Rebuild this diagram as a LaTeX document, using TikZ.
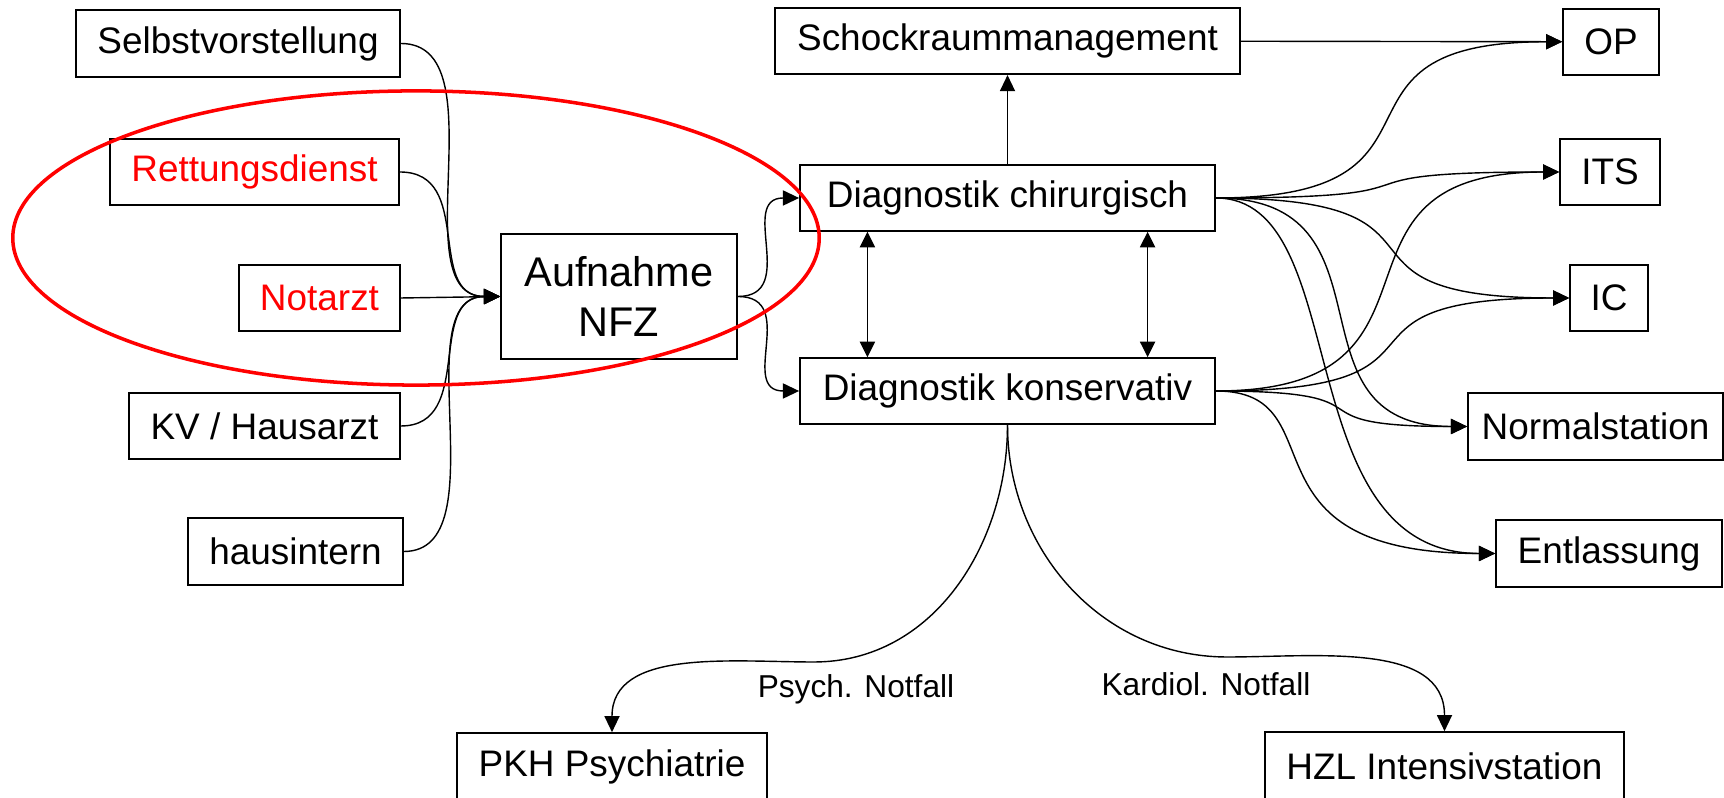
\documentclass[tikz,border=0pt]{standalone}
\usepackage{fontspec}
\setmainfont{Liberation Sans}
\usetikzlibrary{arrows.meta, calc}

\tikzset{
  box/.style={draw, line width=0.45pt, inner sep=0pt, font=\fontsize{10.5}{12.6}\selectfont},
  link/.style={line width=0.4pt, -{Triangle[length=4.6pt,width=4.3pt]}},
  dlink/.style={line width=0.4pt, {Triangle[length=4.4pt,width=4.3pt]}-{Triangle[length=4.4pt,width=4.3pt]}},
  scurve/.style 2 args={to path={(\tikztostart) .. controls ($(\tikztostart)!#1!(\tikztostart -| \tikztotarget)$) and ($(\tikztotarget)!#2!(\tikztotarget -| \tikztostart)$) .. (\tikztotarget)}},
  sc/.style={scurve={0.75}{0.75}},
  lbl/.style={font=\fontsize{9}{11}\selectfont}
}

\begin{document}
\begin{tikzpicture}[x=0.01cm, y=-0.01cm]
\useasboundingbox (0,0) rectangle (1724,798);
% Zugang
\node[box, minimum width=3.24cm, minimum height=0.67cm] (selbst) at (238,43.5) {Selbstvorstellung};
\node[box, text=red, minimum width=2.89cm, minimum height=0.66cm] (rett) at (254.5,172) {Rettungsdienst};
\node[box, text=red, minimum width=1.61cm, minimum height=0.66cm] (notarzt) at (319.5,298) {Notarzt};
\node[box, minimum width=2.71cm, minimum height=0.66cm] (kv) at (264.5,426) {KV / Hausarzt};
\node[box, minimum width=2.15cm, minimum height=0.67cm] (haus) at (295.5,551.5) {hausintern};
\node[box, align=center, font=\fontsize{11.8}{14.2}\selectfont, minimum width=2.36cm, minimum height=1.25cm] (aufn) at (619,296.5) {Aufnahme\\NFZ};
% Diagnostik
\node[box, minimum width=4.65cm, minimum height=0.66cm] (schock) at (1007.5,41.25) {Schockraummanagement};
\node[box, minimum width=4.15cm, minimum height=0.66cm] (chir) at (1007.5,198) {Diagnostik chirurgisch};
\node[box, minimum width=4.15cm, minimum height=0.66cm] (kons) at (1007.5,391) {Diagnostik konservativ};
% Ziele
\node[box, minimum width=0.96cm, minimum height=0.66cm] (op) at (1611,41.75) {OP};
\node[box, minimum width=1.00cm, minimum height=0.66cm] (its) at (1610,172) {ITS};
\node[box, minimum width=0.78cm, minimum height=0.66cm] (ic) at (1609,298) {IC};
\node[box, minimum width=2.55cm, minimum height=0.67cm] (normal) at (1595.5,426.5) {Normalstation};
\node[box, minimum width=2.26cm, minimum height=0.67cm] (entl) at (1609,553.5) {Entlassung};
\node[box, minimum width=3.10cm, minimum height=0.67cm] (pkh) at (612,766.5) {PKH Psychiatrie};
\node[box, minimum width=3.59cm, minimum height=0.68cm] (hzl) at (1444.5,766) {HZL Intensivstation};
\node[lbl] (psych) at (856,689) {Psych. Notfall};
\node[lbl] (kard) at (1206,684) {Kardiol. Notfall};
\coordinate (psyknick) at (814,662);
\coordinate (kardknick) at (1227,657);

\draw[link] (selbst.east) to[scurve={1}{1}] (aufn.west);
\draw[link] (rett.east) to[sc] (aufn.west);
\draw[link] (notarzt.east) -- (aufn.west);
\draw[link] (kv.east) to[sc] (aufn.west);
\draw[link] (haus.east) to[scurve={1}{1}] (aufn.west);
\draw[link] (aufn.east) to[scurve={1}{1}] (chir.west);
\draw[link] (aufn.east) to[scurve={1}{1}] (kons.west);
\draw[link] (chir.north) -- (schock.south);
\draw[link] (schock.east) -- (op.west);
\draw[dlink] ([xshift=-1.4cm]chir.south) -- ([xshift=-1.4cm]kons.north);
\draw[dlink] ([xshift=1.4cm]chir.south) -- ([xshift=1.4cm]kons.north);
\draw[link] (chir.east) to[sc] (op.west);
\draw[link] (chir.east) to[sc] (its.west);
\draw[link] (chir.east) to[sc] (ic.west);
\draw[link] (chir.east) to[sc] (normal.west);
\draw[link] (chir.east) to[scurve={0.5}{0.75}] (entl.west);
\draw[link] (kons.east) to[sc] (its.west);
\draw[link] (kons.east) to[sc] (ic.west);
\draw[link] (kons.east) to[sc] (normal.west);
\draw[link] (kons.east) to[scurve={0.45}{0.95}] (entl.west);
\draw[link] (kons.south) to[out=-90,in=0] (psyknick) to[out=180,in=90] (pkh.north);
\draw[link] (kons.south) to[out=-90,in=180] (kardknick) to[out=0,in=90] (hzl.north);
% Markierung
\draw[red, line width=1pt] (416,238) ellipse [x radius=4.03cm, y radius=1.47cm];
\end{tikzpicture}
\end{document}
